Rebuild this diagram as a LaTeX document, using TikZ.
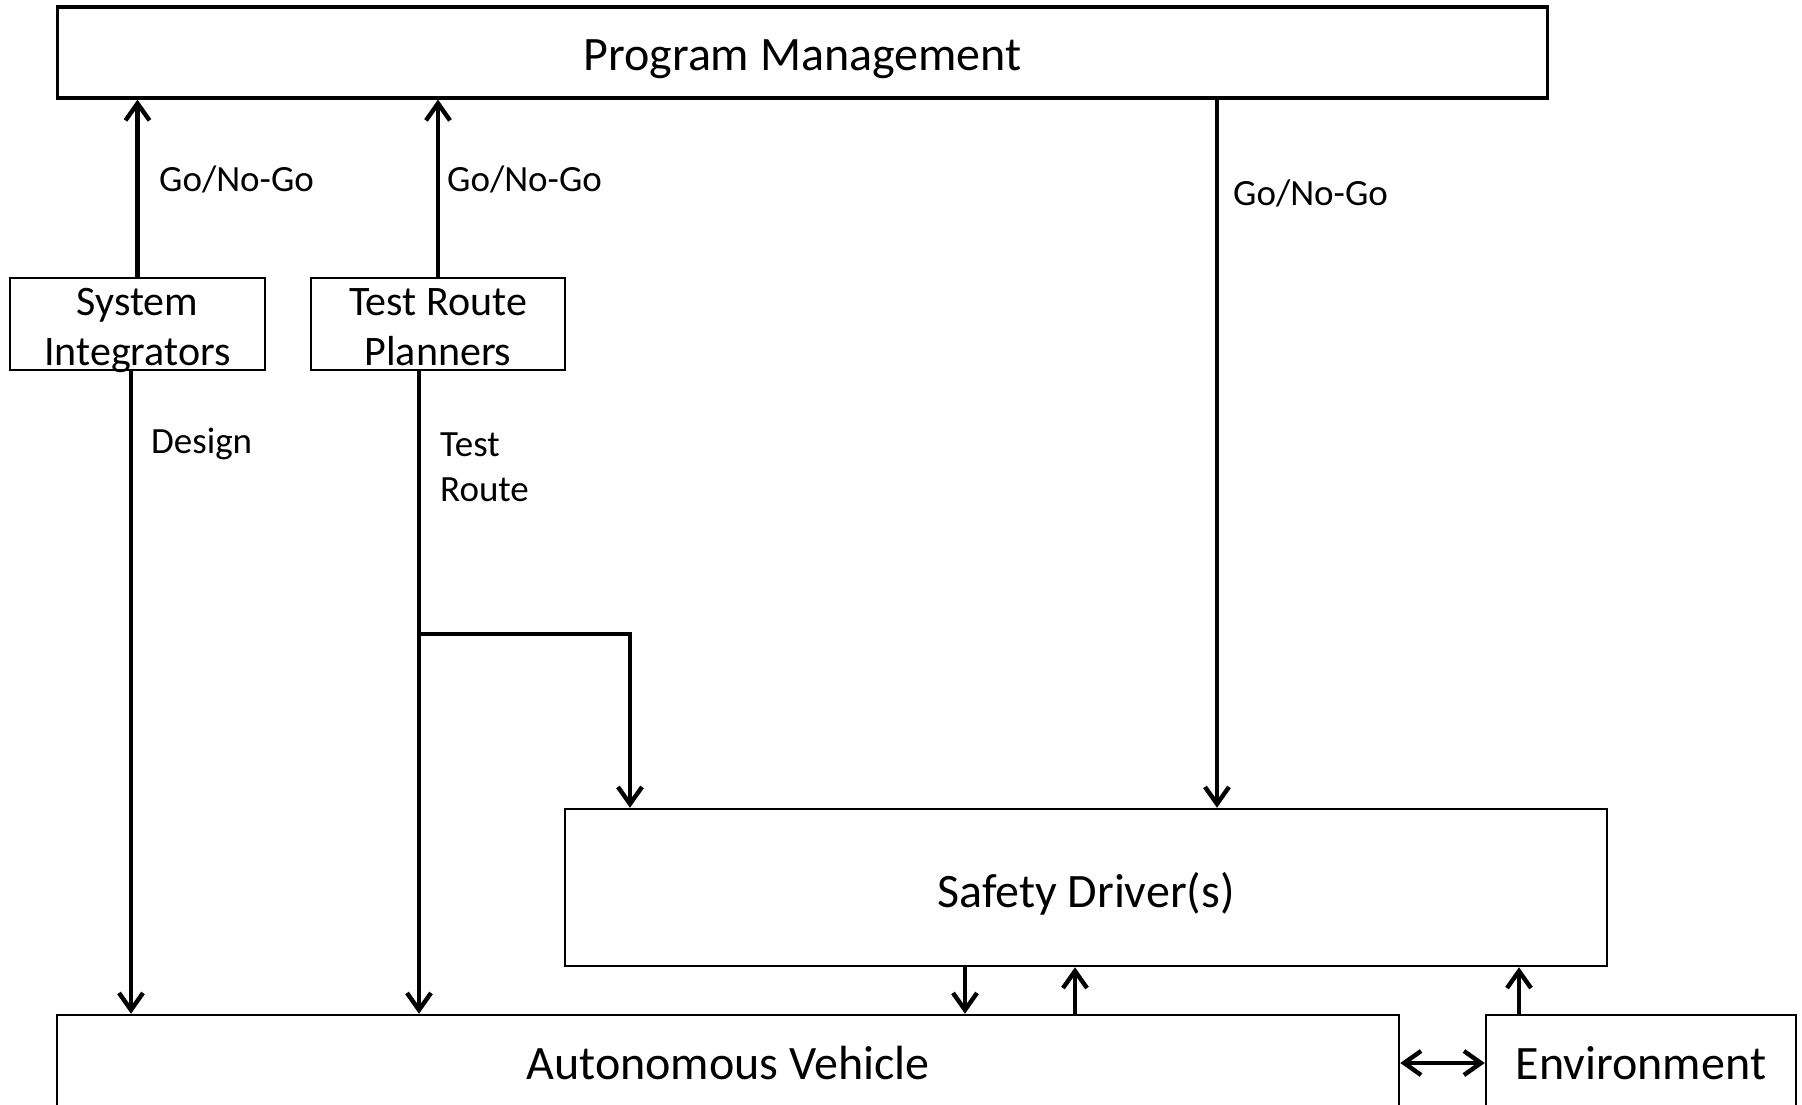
\documentclass[tikz,border=0pt]{standalone}
\usepackage{fontspec}
\setmainfont{Carlito}
\usetikzlibrary{arrows.meta}
% lower a line of text inside its box without changing the box's size
\newcommand{\dropby}[2]{\raisebox{-#1}[\height][\depth]{#2}}
\tikzset{
  barbhead/.tip={Straight Barb[length=17pt,width=24pt]},
  box/.style={draw, line width=2.5pt, inner sep=0pt, align=center, text depth=0pt, font=\fontsize{48}{52}\selectfont},
  smallbox/.style={box, font=\fontsize{42}{50}\selectfont},
  flow/.style={line width=4.4pt, -barbhead},
  both/.style={line width=4.4pt, barbhead-barbhead},
  lbl/.style={anchor=west, inner sep=0pt, align=left, font=\fontsize{37}{45}\selectfont}
}
\begin{document}
\begin{tikzpicture}[x=1pt,y=-1pt]
\useasboundingbox (0,0) rectangle (1802,1104);

% boxes
\node[box, line width=3.2pt, minimum width=1490pt, minimum height=91pt] (pm) at (802.5,52.5) {\dropby{2.3pt}{Program Management}};
\node[smallbox, minimum width=255pt, minimum height=92pt] (si) at (137.5,324) {\dropby{2.9pt}{System}\\\dropby{2.9pt}{Integrators}};
\node[smallbox, minimum width=254pt, minimum height=92pt] (trp) at (438,324) {\dropby{2.9pt}{Test Route}\\\dropby{2.9pt}{Planners}};
\node[box, minimum width=1042pt, minimum height=157pt] (sd) at (1086,887.5) {\dropby{2.3pt}{Safety Driver(s)}};
\node[box, minimum width=1342pt, minimum height=96pt] (av) at (728,1063) {Autonomous Vehicle};
\node[box, minimum width=310pt, minimum height=96pt] (env) at (1641,1063) {Environment};

% go / no-go decisions
\draw[flow] (si.north) -- (si.north |- pm.south);
\draw[flow] (trp.north) -- (trp.north |- pm.south);
\coordinate (pmout) at (1217,0);
\draw[flow] (pmout |- pm.south) -- (pmout |- sd.north);
\node[lbl] (g1) at (159,179) {Go/No-Go};
\node[lbl] (g2) at (447,179) {Go/No-Go};
\node[lbl] (g3) at (1233,193) {Go/No-Go};

% design and test route
\coordinate (dx) at (131,0);
\coordinate (tx) at (419,0);
\draw[flow] (dx |- si.south) -- (dx |- av.north);
\draw[flow] (tx |- trp.south) -- (tx |- av.north);
\coordinate (branch) at (419,634);
\coordinate (sdin) at (630,0);
\draw[flow] (branch) -- (sdin |- branch) -- (sdin |- sd.north);
\node[lbl] (design) at (151,443.5) {Design};
\node[lbl, anchor=north west] (route) at (440,432.5) {Test\\Route};

% vehicle, driver and environment
\coordinate (sdav) at (965,0);
\coordinate (avsd) at (1075,0);
\coordinate (envsd) at (1519,0);
\draw[flow] (sdav |- sd.south) -- (sdav |- av.north);
\draw[flow] (avsd |- av.north) -- (avsd |- sd.south);
\draw[flow] (envsd |- env.north) -- (envsd |- sd.south);
\draw[both] (av.east) -- (env.west);
\end{tikzpicture}
\end{document}
